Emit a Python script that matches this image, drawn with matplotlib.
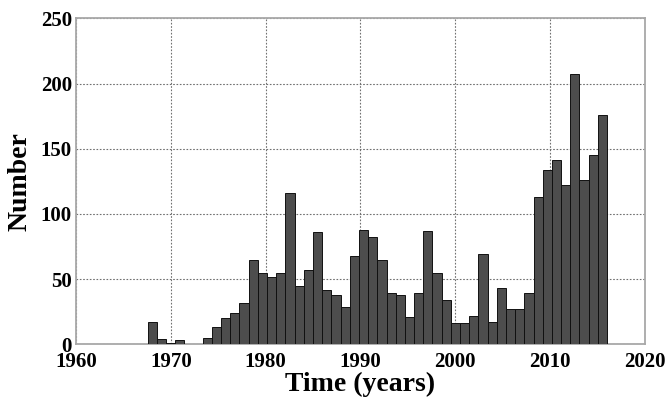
import numpy as np
import matplotlib
matplotlib.use("Agg")
import matplotlib.pyplot as plt

# Histogram data: 50 equal bins spanning first_edge..last_edge (years)
first_edge = 1967.55
last_edge = 2016.0
counts = [17, 4, 1, 3, 0, 0, 5, 13, 20, 24,
          32, 65, 55, 52, 55, 116, 45, 57, 86, 42,
          38, 29, 68, 88, 82, 65, 39, 38, 21, 39,
          87, 55, 34, 16, 16, 22, 69, 17, 43, 27,
          27, 39, 113, 134, 141, 122, 207, 126, 145, 176]
x_ticks = [1960, 1970, 1980, 1990, 2000, 2010, 2020]
y_ticks = [0, 50, 100, 150, 200, 250]
x_label = "Time (years)"
y_label = "Number"

plt.rcParams['font.family'] = ['Liberation Serif', 'DejaVu Serif']
plt.rcParams['font.weight'] = 'bold'

fig = plt.figure(figsize=(6.69, 3.97), dpi=100)
ax = fig.add_axes([0.1136, 0.1327, 0.9641 - 0.1136, 0.9539 - 0.1327])

edges = np.linspace(first_edge, last_edge, len(counts) + 1)
widths = np.diff(edges)
ax.bar(edges[:-1], counts, width=widths, align='edge',
       color='#4d4d4d', edgecolor='#111111', linewidth=0.7, zorder=3)

ax.set_xlim(1960, 2020)
ax.set_ylim(0, 250)
ax.set_xticks(x_ticks)
ax.set_yticks(y_ticks)
ax.set_xticklabels([str(t) for t in x_ticks], fontsize=15, fontweight='bold')
ax.set_yticklabels([str(t) for t in y_ticks], fontsize=15, fontweight='bold')
ax.tick_params(axis='both', length=0)
ax.tick_params(axis='x', pad=5.5)
ax.tick_params(axis='y', pad=3)

ax.grid(True, linestyle=(0, (1.5, 1.5)), color='#707070', linewidth=0.8, zorder=0)
for s in ax.spines.values():
    s.set_color('#a8a8a8')
    s.set_linewidth(1.3)

ax.set_xlabel(x_label, fontsize=20, fontweight='bold', labelpad=0)
ax.set_ylabel(y_label, fontsize=20, fontweight='bold', labelpad=6)

fig.savefig("out.png", dpi=100)
